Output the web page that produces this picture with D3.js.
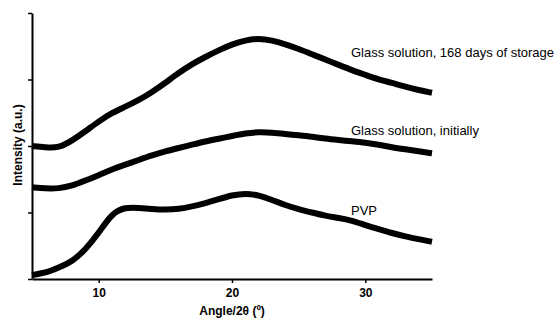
<!DOCTYPE html>
<html>
<head>
<meta charset="utf-8">
<script src="https://cdn.jsdelivr.net/npm/d3@7"></script>
<style>
  html, body { margin: 0; padding: 0; background: #fff; }
  svg { display: block; font-family: "Liberation Sans", Arial, sans-serif; }
</style>
</head>
<body>
<svg id="chart" width="558" height="321"></svg>
<script>
// Angle 2θ (degrees)
const angles = [5,6,7,8,9,10,11,12,13,14,15,16,17,18,19,20,21,22,23,24,25,26,27,28,29,30,31,32,33,34,35];
// Intensity (a.u., offset-stacked)
const stored168 = [2.00,1.98,1.97,2.08,2.22,2.37,2.50,2.59,2.69,2.81,2.95,3.10,3.23,3.34,3.44,3.53,3.59,3.62,3.59,3.53,3.46,3.38,3.30,3.22,3.14,3.07,3.00,2.95,2.89,2.84,2.80];
const initially = [1.38,1.36,1.36,1.40,1.48,1.56,1.65,1.72,1.79,1.86,1.92,1.97,2.02,2.07,2.11,2.15,2.19,2.21,2.20,2.18,2.16,2.14,2.11,2.09,2.07,2.05,2.02,1.98,1.95,1.92,1.89];
const pvp = [0.06,0.09,0.17,0.26,0.44,0.69,0.99,1.08,1.07,1.05,1.04,1.05,1.09,1.14,1.20,1.26,1.29,1.26,1.19,1.11,1.05,1.00,0.95,0.92,0.88,0.81,0.75,0.69,0.64,0.60,0.56];
const seriesNames = ["Glass solution, 168 days of storage", "Glass solution, initially", "PVP"];
const xTicks = [10, 20, 30];
const yTicks = [0, 1, 2, 3, 4];

const svg = d3.select("#chart");
const margin = {left: 32, top: 13, right: 126, bottom: 42};
const W = 558, H = 321;
const x = d3.scaleLinear().domain([5, 35]).range([margin.left, W - margin.right]);
const y = d3.scaleLinear().domain([0, 4]).range([H - margin.bottom, margin.top]);

const series = [stored168, initially, pvp];
const line = d3.line()
  .x((d, i) => x(angles[i]))
  .y(d => y(d))
  .curve(d3.curveBasis);

series.forEach((s) => {
  svg.append("path")
    .datum(s)
    .attr("fill", "none")
    .attr("stroke", "#000")
    .attr("stroke-width", 6)
    .attr("stroke-linejoin", "round")
    .attr("d", line);
});

// Labels
const labelY = [57, 135, 215];
seriesNames.forEach((n, k) => {
  svg.append("text")
    .attr("x", 351)
    .attr("y", labelY[k])
    .attr("font-size", 13)
    .attr("fill", "#000")
    .text(n);
});

// Axes
const xAxis = d3.axisBottom(x).tickValues(xTicks).tickSize(4).tickSizeOuter(0);
const gx = svg.append("g").attr("transform", `translate(0,${H - margin.bottom})`).call(xAxis);
gx.select(".domain").attr("stroke-width", 2);
gx.selectAll(".tick line").attr("stroke-width", 1.5);
gx.selectAll(".tick text").attr("font-size", 12).attr("font-weight", "bold").attr("font-family", "Liberation Sans, Arial, sans-serif").attr("dy", "0.9em");

const yAxis = d3.axisLeft(y).tickValues(yTicks).tickSize(4).tickSizeOuter(0).tickFormat("");
const gy = svg.append("g").attr("transform", `translate(${margin.left},0)`).call(yAxis);
gy.select(".domain").attr("stroke-width", 2);
gy.selectAll(".tick line").attr("stroke-width", 1.5);

svg.append("text")
  .attr("x", x(20))
  .attr("y", 315)
  .attr("text-anchor", "middle")
  .attr("font-size", 12)
  .attr("font-weight", "bold")
  .text("Angle/2θ (º)");

svg.append("text")
  .attr("transform", `translate(22,145) rotate(-90)`)
  .attr("text-anchor", "middle")
  .attr("font-size", 12)
  .attr("font-weight", "bold")
  .text("Intensity (a.u.)");
</script>
</body>
</html>
